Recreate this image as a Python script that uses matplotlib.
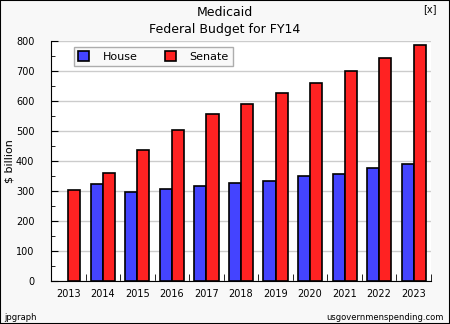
import matplotlib.pyplot as plt
import numpy as np
from matplotlib.ticker import MultipleLocator
from matplotlib.patches import Rectangle

years = ['2013', '2014', '2015', '2016', '2017', '2018', '2019', '2020', '2021', '2022', '2023']
house = [np.nan, 322, 296, 306, 316, 326, 332, 350, 357, 376, 390]
senate = [303, 359, 436, 502, 557, 589, 626, 659, 699, 742, 787]

house_color = '#4444ff'
senate_color = '#ff2222'

fig = plt.figure(figsize=(4.5, 3.24), dpi=100, facecolor='#f8f8f8')
fig.patches.append(Rectangle((0, 0), 1, 1, transform=fig.transFigure,
                             fill=False, edgecolor='black', linewidth=1.5))
ax = fig.add_axes([51/450, 1 - 281/324, 380/450, 240/324])
ax.set_facecolor('white')

x = np.arange(len(years))
w = 0.35
ax.bar(x - w/2, house, width=w, color=house_color, edgecolor='black', linewidth=1.2,
       label='House', zorder=3)
ax.bar(x + w/2, senate, width=w, color=senate_color, edgecolor='black', linewidth=1.2,
       label='Senate', zorder=3)

ax.set_xlim(-0.5, len(years) - 0.5)
ax.set_ylim(0, 800)
ax.set_xticks(x)
ax.set_xticklabels(years, fontsize=7)
ax.set_xticks(x + 0.5, minor=True)
ax.tick_params(axis='x', which='major', length=0, pad=6)
ax.tick_params(axis='x', which='minor', direction='in', length=5)
ax.yaxis.set_major_locator(MultipleLocator(100))
ax.yaxis.set_minor_locator(MultipleLocator(50))
ax.tick_params(axis='y', which='major', direction='in', length=5, labelsize=7, pad=12)
ax.tick_params(axis='y', which='minor', direction='in', length=3)
ax.grid(axis='y', color='#cccccc', linewidth=1, zorder=0)
ax.spines['top'].set_visible(False)
ax.spines['right'].set_visible(False)

leg = ax.legend(loc='upper left', bbox_to_anchor=(0.045, 1.0), ncol=2, fontsize=8,
                frameon=True, fancybox=False, edgecolor='#999999', handlelength=1.0,
                handleheight=1.0, columnspacing=2.5, handletextpad=1.2,
                borderpad=0.4)
leg.get_frame().set_linewidth(1)
leg.get_frame().set_facecolor('#f8f8f8')

fig.text(10/450, 1 - 161/324, '$ billion', ha='center', va='center', fontsize=8, rotation=90)
fig.text(0.5, 1 - 13/324, 'Medicaid', ha='center', va='center', fontsize=9)
fig.text(0.5, 1 - 29/324, 'Federal Budget for FY14', ha='center', va='center', fontsize=9)
fig.text(430/450, 1 - 9/324, '[x]', ha='center', va='center', fontsize=7)
fig.text(4/450, 1 - 317/324, 'jpgraph', ha='left', va='center', fontsize=6)
fig.text(444/450, 1 - 317/324, 'usgovernmenspending.com', ha='right', va='center', fontsize=6)

fig.savefig('out.png', dpi=100, facecolor=fig.get_facecolor())
